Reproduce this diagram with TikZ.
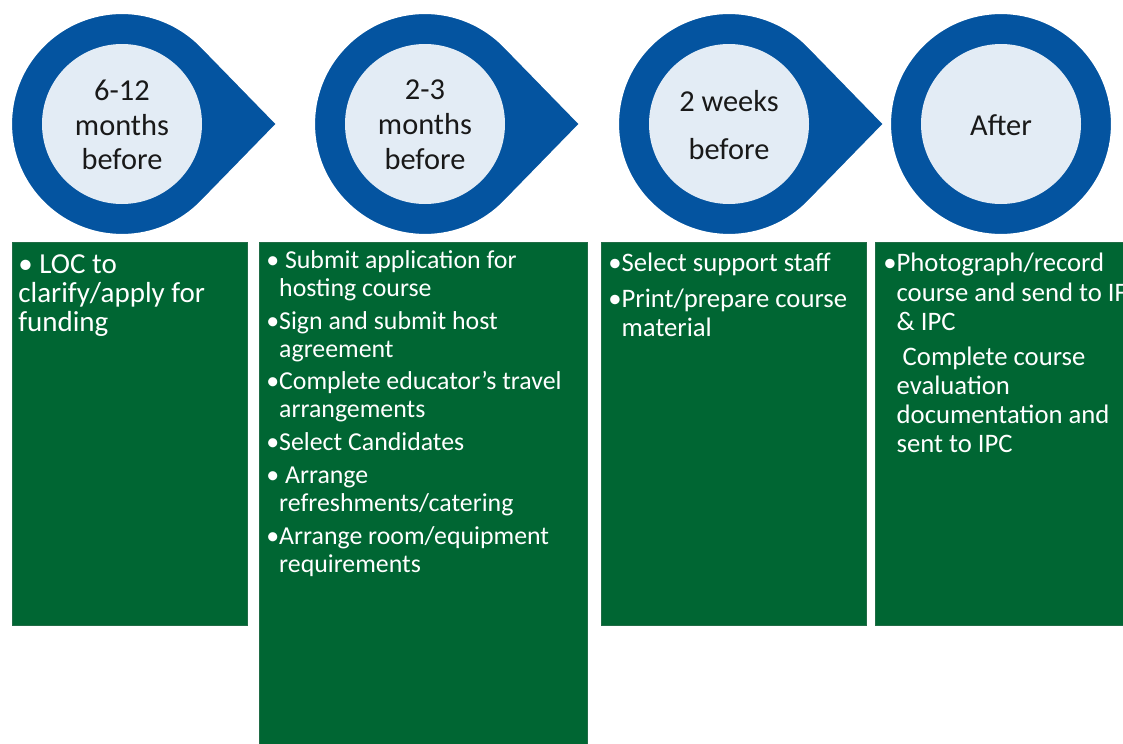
\documentclass[tikz,border=0pt]{standalone}
\usepackage{fontspec}
\setmainfont{Carlito}
\definecolor{dropblue}{RGB}{4,84,160}
\definecolor{dropcore}{RGB}{227,236,245}
\definecolor{taskgreen}{RGB}{0,102,51}
\newcommand{\ind}{\phantom{•}}

\begin{document}
\begin{tikzpicture}[x=0.02cm,y=-0.02cm,
	drop/.style={fill=dropblue,draw=white,line width=1.2pt},
	core/.style={fill=dropcore},
	stage/.style={align=center,text=black!90,font=\fontsize{17.3}{19.8}\selectfont},
	taskbox/.style={fill=taskgreen,draw=taskgreen!75!gray,line width=0.4pt},
	tasks/.style={anchor=north west,align=left,inner sep=0pt,text=white,font=\fontsize{15.2}{16.6}\selectfont}]
	\useasboundingbox (0,0) rectangle (1123,744);
	% the three pointers and the last circle
	\foreach \cx in {122,425,729}{
		\draw[drop] (\cx,124) ++(44:111) arc[start angle=44,end angle=316,radius=111] -- (\cx+155,124) -- cycle;
	}
	\draw[drop] (1001,124) circle[radius=111];
	\foreach \cx in {122,425,729,1001}
		\fill[core] (\cx,124) circle[radius=80];
	\node[stage] (stage1) at (122,125) {6-12\\months\\before};
	\node[stage] (stage2) at (425,125) {2-3\\months\\before};
	\node[stage] (stage3) at (729,125) {2 weeks\\[8pt]before};
	\node[stage] (stage4) at (1001,125) {After};
	% task lists
	\draw[taskbox] (12,242) rectangle (247,625);
	\draw[taskbox] (259,242) rectangle (587,746);
	\draw[taskbox] (601,242) rectangle (866,625);
	\draw[taskbox] (875,242) rectangle (1126,625);
	\node[tasks,font=\fontsize{16.5}{16.5}\selectfont] (task1) at (18,254) {• LOC to\\clarify/apply for\\funding};
	\node[tasks,font=\fontsize{14.7}{15.9}\selectfont] (task2) at (266,250) {• Submit application for\\\ind hosting course\\[2.8pt]
		•Sign and submit host\\\ind agreement\\[2.8pt]
		•Complete educator’s travel\\\ind arrangements\\[2.8pt]
		•Select Candidates\\[2.8pt]
		• Arrange\\\ind refreshments/catering\\[2.8pt]
		•Arrange room/equipment\\\ind requirements};
	\node[tasks] (task3) at (608,253) {•Select support staff\\[3.4pt]
		•Print/prepare course\\\ind material};
	\node[tasks] (task4) at (883,253) {•Photograph/record\\\ind course and send to IF\\\ind\&~IPC\\[3.4pt]
		\ind\ Complete course\\\ind evaluation\\\ind documentation and\\\ind sent to IPC};
\end{tikzpicture}
\end{document}
